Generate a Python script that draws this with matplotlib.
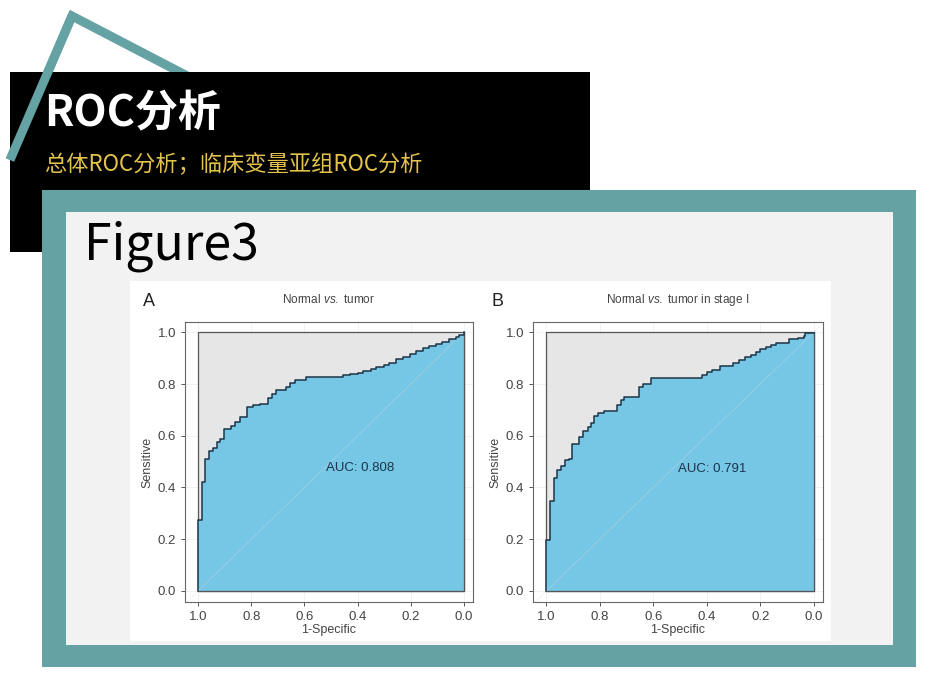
import matplotlib.pyplot as plt
import matplotlib.patches as mpatches
from matplotlib.lines import Line2D

plt.rcParams['font.family'] = ['Noto Sans CJK SC', 'DejaVu Sans']
plt.rcParams['mathtext.fontset'] = 'custom'
plt.rcParams['mathtext.it'] = 'Liberation Sans:italic'
plt.rcParams['mathtext.rm'] = 'Liberation Sans'

# ROC step knots (specificity, sensitivity)
spec_a = [1.0, 1.0, 0.987, 0.975, 0.961, 0.946, 0.931, 0.919, 0.902, 0.875, 0.862, 0.841,
          0.818, 0.793, 0.766, 0.739, 0.724, 0.706, 0.668, 0.653, 0.637, 0.593, 0.455, 0.43,
          0.40, 0.38, 0.35, 0.33, 0.30, 0.28, 0.255, 0.23, 0.204, 0.18, 0.154, 0.13, 0.104,
          0.08, 0.054, 0.03, 0.016, 0.0]
sens_a = [0.0, 0.274, 0.423, 0.510, 0.541, 0.554, 0.575, 0.586, 0.626, 0.639, 0.655, 0.674,
          0.710, 0.719, 0.723, 0.747, 0.760, 0.777, 0.787, 0.803, 0.816, 0.829, 0.834, 0.838,
          0.844, 0.849, 0.857, 0.865, 0.872, 0.880, 0.897, 0.906, 0.916, 0.927, 0.938, 0.946,
          0.955, 0.964, 0.973, 0.982, 0.990, 1.0]

spec_b = [1.0, 1.0, 0.985, 0.972, 0.959, 0.944, 0.931, 0.916, 0.904, 0.877, 0.862, 0.846,
          0.833, 0.821, 0.806, 0.783, 0.737, 0.721, 0.708, 0.655, 0.640, 0.608, 0.417, 0.40,
          0.38, 0.35, 0.30, 0.28, 0.255, 0.235, 0.217, 0.20, 0.179, 0.16, 0.142, 0.092, 0.06,
          0.035, 0.031, 0.0]
sens_b = [0.0, 0.195, 0.349, 0.438, 0.466, 0.483, 0.506, 0.512, 0.568, 0.597, 0.617, 0.632,
          0.648, 0.678, 0.688, 0.697, 0.719, 0.740, 0.749, 0.788, 0.799, 0.825, 0.836, 0.845,
          0.853, 0.869, 0.882, 0.892, 0.903, 0.914, 0.925, 0.934, 0.944, 0.952, 0.960, 0.973,
          0.980, 0.986, 0.999, 0.999]

titles = ['Normal $\\it{vs.}$ tumor', 'Normal $\\it{vs.}$ tumor in stage I']
letters = ['A', 'B']
auc_labels = ['AUC: 0.808', 'AUC: 0.791']
auc_pos = [(0.392, 0.477), (0.38, 0.47)]
ticks = [0.0, 0.2, 0.4, 0.6, 0.8, 1.0]

W, H = 930, 680
TEAL = '#65a2a4'
SANS = 'Liberation Sans'
fig = plt.figure(figsize=(W / 100, H / 100), dpi=100)
fig.patch.set_facecolor('white')


def box(x0, y0, x1, y1, **kw):
    # pixel coords with top-left origin
    r = mpatches.Rectangle((x0 / W, 1 - y1 / H), (x1 - x0) / W, (y1 - y0) / H,
                           transform=fig.transFigure, **kw)
    fig.patches.append(r)


def seg(pts, **kw):
    xs = [p[0] / W for p in pts]
    ys = [1 - p[1] / H for p in pts]
    fig.lines.append(Line2D(xs, ys, transform=fig.transFigure, **kw))


# teal triangle edges, the right one tucked behind the black box
seg([(10, 160), (72, 16), (195, 80)], color=TEAL, lw=6.5, zorder=0,
    solid_joinstyle='miter', solid_capstyle='butt')
box(10, 72, 590, 252, facecolor='black', edgecolor='none', zorder=1)
seg([(10, 160), (72, 16)], color=TEAL, lw=6.5, zorder=2, solid_capstyle='butt')

fig.text(44 / W, 1 - 113 / H, 'ROC分析', color='white', fontsize=31, fontweight='bold',
         va='center', ha='left', zorder=3)
fig.text(44 / W, 1 - 165 / H, '总体ROC分析；临床变量亚组ROC分析', color='#e3c34a',
         fontsize=16, va='center', ha='left', zorder=3)

# framed panel
box(42, 190, 916, 667, facecolor=TEAL, edgecolor='none', zorder=3)
box(66, 212, 893, 645, facecolor='#f2f2f2', edgecolor='none', zorder=4)
box(130, 281, 831, 641, facecolor='white', edgecolor='none', zorder=5)
fig.text(84 / W, 1 - 246 / H, 'Figure3', color='black', fontsize=36, va='center',
         ha='left', zorder=6)

axes_px = [(185, 322, 473, 602), (533, 322, 823, 602)]
curves = [(spec_a, sens_a), (spec_b, sens_b)]

for i, (x0, y0, x1, y1) in enumerate(axes_px):
    ax = fig.add_axes([x0 / W, 1 - y1 / H, (x1 - x0) / W, (y1 - y0) / H], zorder=7)
    ax.set_facecolor('white')
    ax.set_xlim(1.05, -0.035)
    ax.set_ylim(-0.043, 1.04)
    ax.grid(True, color='#efefef', lw=0.6)
    ax.set_axisbelow(True)
    ax.add_patch(mpatches.Rectangle((0, 0), 1, 1, facecolor='#e6e6e6', edgecolor='#555555',
                                    lw=0.9, zorder=1))
    sx, sy = curves[i]
    ax.fill_between(sx, sy, 0, step='post', color='#76c6e6', lw=0, zorder=2)
    ax.plot(sx, sy, drawstyle='steps-post', color='#1c3548', lw=1.1, zorder=4)
    ax.plot([1, 0, 0], [0, 0, 1], color='#555555', lw=0.9, zorder=3)
    ax.axline((1, 0), (0, 1), color='#dddddd', lw=0.7, alpha=0.35, zorder=3)
    ax.text(auc_pos[i][0], auc_pos[i][1], auc_labels[i], color='#1c3548', fontsize=9.5,
            ha='center', va='center', family=SANS, zorder=5)
    ax.set_xticks(ticks)
    ax.set_yticks(ticks)
    ax.set_xticklabels(['%.1f' % t for t in ticks], family=SANS)
    ax.set_yticklabels(['%.1f' % t for t in ticks], family=SANS)
    ax.tick_params(colors='#555555', labelcolor='#444444', labelsize=9.5, length=3, width=0.7)
    for sp in ax.spines.values():
        sp.set_color('#666666')
        sp.set_linewidth(0.8)
    ax.set_xlabel('1-Specific', fontsize=9, color='#444444', labelpad=1, family=SANS)
    ax.set_ylabel('Sensitive', fontsize=9, color='#444444', labelpad=3, family=SANS)
    ax.set_title(titles[i], fontsize=8.5, color='#444444', pad=14, family=SANS)
    fig.text((x0 - 42) / W, 1 - 302 / H, letters[i], fontsize=13, color='#222222',
             va='center', ha='left', family=SANS, zorder=8)

fig.savefig('out.png', dpi=100)
